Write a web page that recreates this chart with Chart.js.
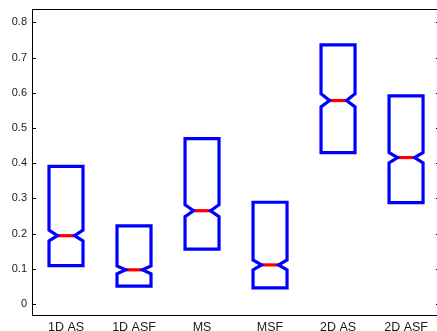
<!DOCTYPE html>
<html>
<head>
<meta charset="utf-8">
<script src="https://cdn.jsdelivr.net/npm/chart.js@4/dist/chart.umd.min.js"></script>
<style>
  html, body { margin: 0; padding: 0; background: #fff; }
  #wrap { width: 437px; height: 331px; }
</style>
</head>
<body>
<div id="wrap"><canvas id="c" width="437" height="331"></canvas></div>
<script>
// Methods compared
const categories = ['1D AS', '1D ASF', 'MS', 'MSF', '2D AS', '2D ASF'];
// Box statistics per method
const q1 =       [0.109, 0.051, 0.156, 0.046, 0.430, 0.288];
const q3 =       [0.391, 0.222, 0.470, 0.289, 0.736, 0.591];
const medians =  [0.194, 0.097, 0.265, 0.111, 0.578, 0.416];
const notchLo =  [0.179, 0.086, 0.248, 0.097, 0.560, 0.401];
const notchHi =  [0.210, 0.108, 0.282, 0.125, 0.597, 0.430];
// Axis ticks
const yTickValues = [0, 0.1, 0.2, 0.3, 0.4, 0.5, 0.6, 0.7, 0.8];
const yTickLabels = ['0', '0.1', '0.2', '0.3', '0.4', '0.5', '0.6', '0.7', '0.8'];

const HALF = 0.25;   // half box width in category units
const NOTCH = 0.5;   // notch depth as a fraction of the half width

function boxOutline(i) {
  const x = i + 1, w = HALF, n = HALF * NOTCH;
  return [
    {x: x - w, y: q1[i]}, {x: x + w, y: q1[i]},
    {x: x + w, y: notchLo[i]}, {x: x + n, y: medians[i]}, {x: x + w, y: notchHi[i]},
    {x: x + w, y: q3[i]}, {x: x - w, y: q3[i]},
    {x: x - w, y: notchHi[i]}, {x: x - n, y: medians[i]}, {x: x - w, y: notchLo[i]},
    {x: x - w, y: q1[i]}, {x: x + w, y: q1[i]}
  ];
}

const datasets = [];
categories.forEach((c, i) => {
  datasets.push({
    label: c,
    data: boxOutline(i),
    showLine: true,
    borderColor: '#0000ff',
    borderWidth: 3.2,
    borderJoinStyle: 'miter',
    pointRadius: 0,
    fill: false,
    tension: 0
  });
});
categories.forEach((c, i) => {
  const n = HALF * NOTCH;
  datasets.push({
    label: c + ' median',
    data: [{x: i + 1 - n, y: medians[i]}, {x: i + 1 + n, y: medians[i]}],
    showLine: true,
    borderColor: '#ff0000',
    borderWidth: 3.2,
    borderCapStyle: 'butt',
    pointRadius: 0,
    fill: false
  });
});

// Axes frame with inward ticks
const framePlugin = {
  id: 'frame',
  afterDraw(chart) {
    const {ctx, chartArea: a, scales} = chart;
    const ys = scales.y;
    ctx.save();
    ctx.strokeStyle = '#000';
    ctx.lineWidth = 1;
    ctx.beginPath();
    ctx.moveTo(a.left + 0.5, a.top + 0.5);
    ctx.lineTo(a.right + 0.5, a.top + 0.5);
    ctx.moveTo(a.left + 0.5, a.top);
    ctx.lineTo(a.left + 0.5, a.bottom + 0.5);
    ctx.lineTo(a.right + 0.5, a.bottom + 0.5);
    ctx.stroke();
    ctx.beginPath();
    yTickValues.forEach(v => {
      const py = Math.round(ys.getPixelForValue(v)) + 0.5;
      ctx.moveTo(a.left, py); ctx.lineTo(a.left + 4, py);
      ctx.moveTo(a.right + 3, py); ctx.lineTo(a.right - 1, py);
    });
    ctx.stroke();
    ctx.restore();
  }
};

function noEdgePadding(scale) {
  scale.paddingTop = 0;
  scale.paddingBottom = 0;
  scale.paddingLeft = 0;
  scale.paddingRight = 0;
}

new Chart(document.getElementById('c'), {
  type: 'scatter',
  data: { datasets },
  plugins: [framePlugin],
  options: {
    responsive: false,
    animation: false,
    layout: { padding: { top: 9, right: 0, left: 0, bottom: 0 } },
    plugins: { legend: { display: false }, tooltip: { enabled: false } },
    scales: {
      x: {
        type: 'linear',
        min: 0.5,
        max: 6.455,
        grid: { display: false, drawTicks: false },
        border: { display: false },
        afterBuildTicks(scale) {
          scale.ticks = categories.map((c, i) => ({ value: i + 1 }));
        },
        afterFit(scale) { scale.height = 16; noEdgePadding(scale); },
        ticks: {
          autoSkip: false,
          maxRotation: 0,
          padding: 5,
          color: '#1a1a1a',
          font: { family: "'Liberation Sans', Arial, sans-serif", size: 12.5 },
          callback: (v) => categories[Math.round(v) - 1]
        }
      },
      y: {
        type: 'linear',
        min: -0.0313,
        max: 0.838,
        grid: { display: false, drawTicks: false },
        border: { display: false },
        afterBuildTicks(scale) {
          scale.ticks = yTickValues.map(v => ({ value: v }));
        },
        afterFit(scale) { scale.width = 32; noEdgePadding(scale); },
        ticks: {
          padding: 5,
          color: '#1a1a1a',
          font: { family: "'Liberation Sans', Arial, sans-serif", size: 11 },
          callback: (v) => {
            const k = yTickValues.findIndex(t => Math.abs(t - v) < 1e-9);
            return k >= 0 ? yTickLabels[k] : '';
          }
        }
      }
    }
  }
});
</script>
</body>
</html>
